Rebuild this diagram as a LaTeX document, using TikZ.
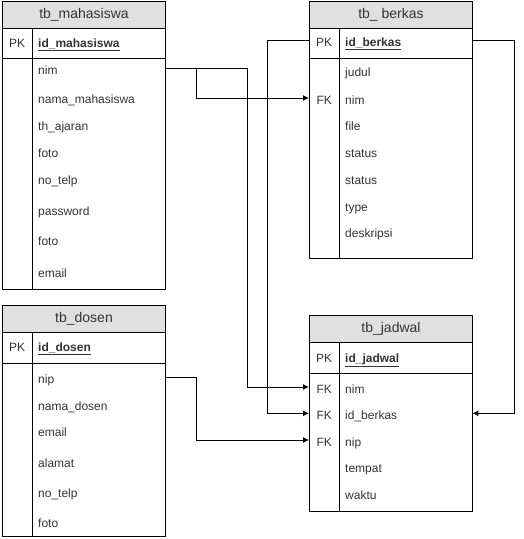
\documentclass[tikz,border=0pt]{standalone}
\usepackage{fontspec}
\setmainfont{Liberation Sans}
\usetikzlibrary{arrows.meta}
\definecolor{hdgray}{HTML}{E0E0E0}
\definecolor{txtgray}{HTML}{333333}
\newcommand{\rowfont}{\fontsize{12}{14}\selectfont}
\newcommand{\hdfont}{\fontsize{14}{16}\selectfont}
\begin{document}
\begin{tikzpicture}[x=1pt,y=-1pt,line join=miter,
  hd/.style={draw=black,fill=hdgray,line width=1pt,minimum width=163pt,minimum height=27pt,inner sep=0pt,anchor=north west,font=\hdfont,text=txtgray},
  frame/.style={line width=1pt},
  key/.style={anchor=west,minimum width=30pt,inner sep=0pt,text height=12pt,text depth=0pt,font=\rowfont,text=txtgray},
  fld/.style={anchor=west,text width=121pt,inner xsep=6pt,inner ysep=0pt,text height=12pt,text depth=0pt,align=left,font=\rowfont,text=txtgray},
  fk/.style={line width=1pt,-{Latex[length=6pt,width=6pt]}}]
  \useasboundingbox (0,0) rectangle (523,539);

  \node[hd] (mhs) at (2,1) {tb\_mahasiswa};
  \draw[frame] (2,28) rectangle (165,289);
  \draw[frame] (2,58) -- (165,58);
  \draw[frame] (32,28) -- (32,289);
  \node[key] (mhs-pkk) at (2,41) {PK};
  \node[fld] (mhs-pk) at (32,41) {\underline{\textbf{id\_mahasiswa}}};
  \node[fld] (mhs-nim) at (32,68.5) {nim};
  \node[fld] (mhs-nama) at (32,97) {nama\_mahasiswa};
  \node[fld] (mhs-th) at (32,124.5) {th\_ajaran};
  \node[fld] (mhs-foto) at (32,151) {foto};
  \node[fld] (mhs-telp) at (32,178) {no\_telp};
  \node[fld] (mhs-pass) at (32,209) {password};
  \node[fld] (mhs-foto2) at (32,239.5) {foto};
  \node[fld] (mhs-email) at (32,271) {email};

  \node[hd] (brk) at (309,1) {tb\_ berkas};
  \draw[frame] (309,28) rectangle (472,258);
  \draw[frame] (309,58) -- (472,58);
  \draw[frame] (339,28) -- (339,258);
  \node[key] (brk-pkk) at (309,40.5) {PK};
  \node[fld] (brk-pk) at (339,40.5) {\underline{\textbf{id\_berkas}}};
  \node[fld] (brk-judul) at (339,70.3) {judul};
  \node[key] (brk-fkk) at (309,98) {FK};
  \node[fld] (brk-nim) at (339,98) {nim};
  \node[fld] (brk-file) at (339,124.7) {file};
  \node[fld] (brk-status) at (339,151.3) {status};
  \node[fld] (brk-status2) at (339,178.3) {status};
  \node[fld] (brk-type) at (339,205) {type};
  \node[fld] (brk-desk) at (339,231.3) {deskripsi};

  \node[hd] (dsn) at (2,305) {tb\_dosen};
  \draw[frame] (2,332) rectangle (165,536);
  \draw[frame] (2,363) -- (165,363);
  \draw[frame] (32,332) -- (32,536);
  \node[key] (dsn-pkk) at (2,345) {PK};
  \node[fld] (dsn-pk) at (32,345) {\underline{\textbf{id\_dosen}}};
  \node[fld] (dsn-nip) at (32,377.3) {nip};
  \node[fld] (dsn-nama) at (32,404) {nama\_dosen};
  \node[fld] (dsn-email) at (32,430) {email};
  \node[fld] (dsn-alamat) at (32,461) {alamat};
  \node[fld] (dsn-telp) at (32,491) {no\_telp};
  \node[fld] (dsn-foto) at (32,521) {foto};

  \node[hd] (jdw) at (309,315) {tb\_jadwal};
  \draw[frame] (309,342) rectangle (472,511);
  \draw[frame] (309,373) -- (472,373);
  \draw[frame] (339,342) -- (339,511);
  \node[key] (jdw-pkk) at (309,356) {PK};
  \node[fld] (jdw-pk) at (339,356) {\underline{\textbf{id\_jadwal}}};
  \node[key] (jdw-fknim) at (309,387) {FK};
  \node[fld] (jdw-nim) at (339,387) {nim};
  \node[key] (jdw-fkbrk) at (309,413.3) {FK};
  \node[fld] (jdw-brk) at (339,413.3) {id\_berkas};
  \node[key] (jdw-fknip) at (309,440) {FK};
  \node[fld] (jdw-nip) at (339,440) {nip};
  \node[fld] (jdw-tempat) at (339,466) {tempat};
  \node[fld] (jdw-waktu) at (339,493) {waktu};

  \draw[fk] (mhs-nim.east) -- ++(31,0) |- (brk-fkk.west);
  \draw[fk] (mhs-nim.east) -- ++(82,0) |- (jdw-fknim.west);
  \draw[fk] (brk-pkk.west) -- ++(-42,0) |- (jdw-fkbrk.west);
  \draw[fk] (brk-pk.east) -- ++(42,0) |- (jdw-brk.east);
  \draw[fk] (dsn-nip.east) -- ++(31,0) |- (jdw-fknip.west);
\end{tikzpicture}
\end{document}
